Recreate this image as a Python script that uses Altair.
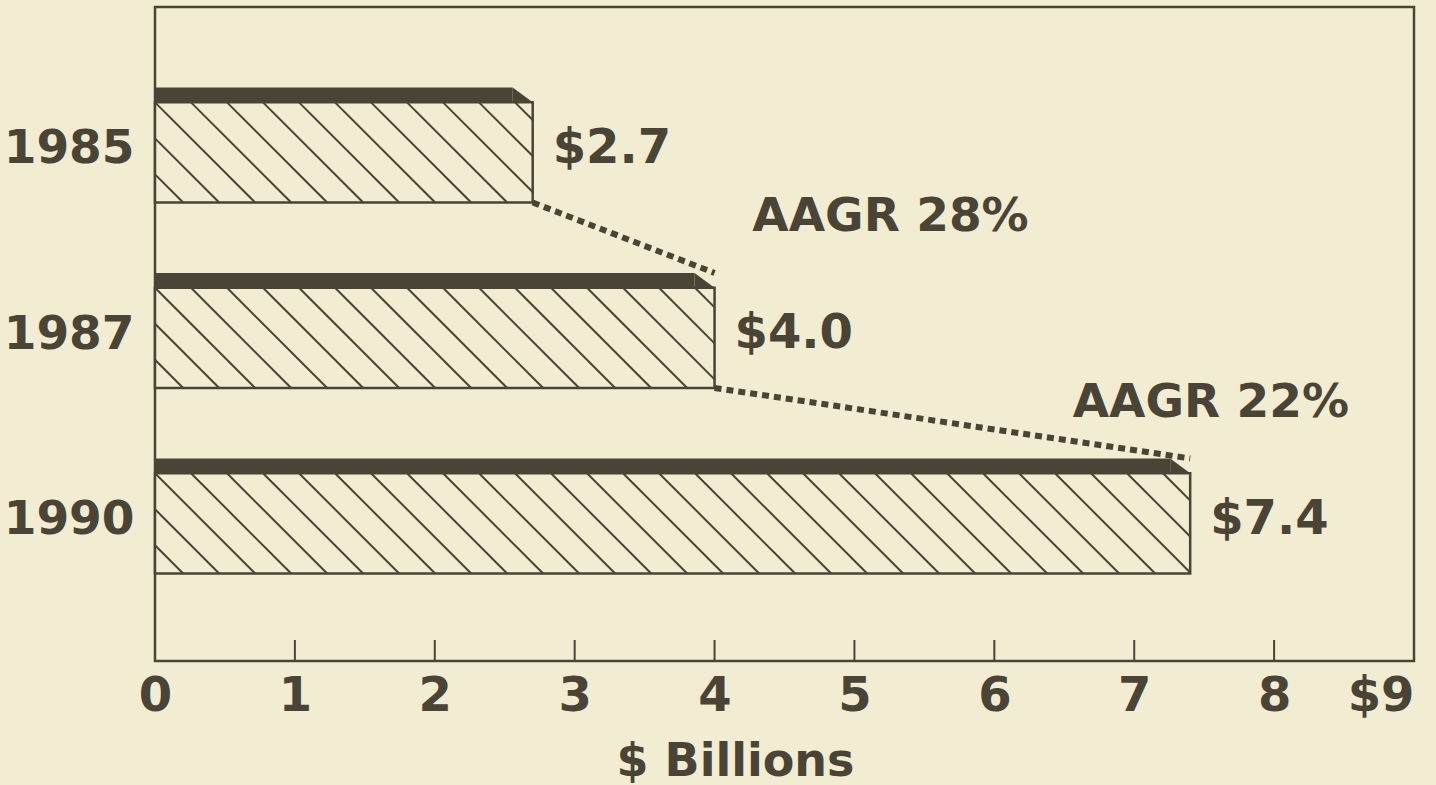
import altair as alt
import pandas as pd
import numpy as np

# ---- data ----
years = ["1985", "1987", "1990"]
values = [2.7, 4.0, 7.4]                 # $ billions
growth_labels = ["AAGR 28%", "AAGR 22%"]
growth_x = [4.27, 6.56]                  # left edge of annotation ($ billions)
growth_y = [0.39, 1.39]                  # vertical centre (bar-row units)
x_ticks = [0, 1, 2, 3, 4, 5, 6, 7, 8, 9]
x_tick_labels = ["0", "1", "2", "3", "4", "5", "6", "7", "8", "$9"]

# ---- styling ----
INK = "#4a4437"
BG = "#f2ecd2"
FONT = "DejaVu Sans"
W, H = 1259, 654
X_DOM = [0, 9]
Y_DOM = [-0.744, 2.782]
PX_X = W / (X_DOM[1] - X_DOM[0])
PX_Y = H / (Y_DOM[1] - Y_DOM[0])
HALF = 0.31          # half bar thickness (row units)
BAND = 0.08          # dark top band thickness
BEVEL = 20 / PX_X    # bevel on dark band
HATCH = 36           # hatch spacing, px

# ---- derived tables ----
bars = pd.DataFrame({
    "year": years,
    "value": values,
    "idx": list(range(len(years))),
})
bars["zero"] = 0.0
bars["top"] = bars["idx"] - HALF
bars["htop"] = bars["idx"] - HALF + BAND
bars["bot"] = bars["idx"] + HALF
bars["bend"] = bars["value"] - BEVEL
bars["label"] = [f"${v:.1f}" for v in values]
bars["ly"] = bars["idx"] + 0.02

# bevel triangles at the right end of the dark band
bev_rows = []
for i, (yr, v) in enumerate(zip(years, values)):
    t = i - HALF
    bev_rows += [
        {"year": yr, "x": v - BEVEL, "y": t, "y2": t + BAND},
        {"year": yr, "x": v, "y": t + BAND, "y2": t + BAND},
    ]
bev = pd.DataFrame(bev_rows)

hatch_rows = []
for i, v in enumerate(values):
    top = i - HALF + BAND
    bot = i + HALF
    wp = v * PX_X
    hp = (bot - top) * PX_Y
    c = -np.floor(hp / HATCH) * HATCH
    while c < wp:
        y0 = max(0.0, -c)
        y1 = min(hp, wp - c)
        if y1 > y0:
            hatch_rows.append({"x": (y0 + c) / PX_X, "x2": (y1 + c) / PX_X,
                               "y": top + y0 / PX_Y, "y2": top + y1 / PX_Y})
        c += HATCH
hatch = pd.DataFrame(hatch_rows)

conn = pd.DataFrame([
    {"x": values[i], "y": i + HALF, "x2": values[i + 1], "y2": i + 1 - HALF}
    for i in range(len(values) - 1)
])

notes = pd.DataFrame({"text": growth_labels, "x": growth_x, "y": growth_y})
ticks = pd.DataFrame({"t": x_ticks[1:-1]})

# ---- scales / axes ----
xscale = alt.Scale(domain=X_DOM, nice=False, zero=False)
yscale = alt.Scale(domain=Y_DOM, nice=False, zero=False, reverse=True)

lab_arr = "[" + ",".join("'" + s + "'" for s in x_tick_labels) + "]"
yr_arr = "[" + ",".join("'" + s + "'" for s in years) + "]"

xaxis = alt.Axis(
    values=x_ticks, labelExpr=lab_arr + "[datum.value]",
    ticks=False, domain=False, grid=False,
    labelFont=FONT, labelFontWeight="bold", labelFontSize=48, labelColor=INK,
    labelPadding=11,
    labelAlign={"condition": {"test": "datum.value == 9", "value": "right"}, "value": "center"},
    title="$ Billions", titleFont=FONT, titleFontWeight="bold", titleFontSize=46,
    titleColor=INK, titleX=580, titleY=114, titleAlign="center",
    titleBaseline="alphabetic", titleAnchor="start",
)
yaxis = alt.Axis(
    values=list(range(len(years))), labelExpr=yr_arr + "[datum.value]",
    ticks=False, domain=False, grid=False, title=None,
    labelFont=FONT, labelFontWeight="bold", labelFontSize=47, labelColor=INK,
    labelPadding=21, labelOffset=4,
)


def X(f):
    return alt.X(f, type="quantitative", scale=xscale, axis=xaxis)


def Y(f):
    return alt.Y(f, type="quantitative", scale=yscale, axis=yaxis)


rects = alt.Chart(bars).mark_rect(fill=BG, stroke=INK, strokeWidth=2.5).encode(
    x=X("zero"), x2="value", y=Y("htop"), y2="bot")

hatch_l = alt.Chart(hatch).mark_rule(stroke=INK, strokeWidth=2).encode(
    x=X("x"), x2="x2", y=Y("y"), y2="y2")

band_l = alt.Chart(bars).mark_rect(color=INK, opacity=1).encode(
    x=X("zero"), x2="bend", y=Y("top"), y2="htop")

bev_l = alt.Chart(bev).mark_area(color=INK, opacity=1, orient="vertical").encode(
    x=X("x"), y=Y("y"), y2="y2", detail="year:N")

conn_l = alt.Chart(conn).mark_rule(stroke=INK, strokeWidth=6, strokeDash=[7, 5]).encode(
    x=X("x"), x2="x2", y=Y("y"), y2="y2")

tick_l = alt.Chart(ticks).mark_rule(stroke=INK, strokeWidth=2).encode(
    x=X("t"), y=alt.value(H - 21), y2=alt.value(H))

val_l = alt.Chart(bars).mark_text(
    align="left", baseline="middle", dx=20, font=FONT, fontWeight="bold",
    fontSize=48, color=INK).encode(x=X("value"), y=Y("ly"), text="label:N")

note_l = alt.Chart(notes).mark_text(
    align="left", baseline="middle", font=FONT, fontWeight="bold",
    fontSize=47, color=INK).encode(x=X("x"), y=Y("y"), text="text:N")

chart = alt.layer(rects, hatch_l, band_l, bev_l, conn_l, tick_l, val_l, note_l).properties(
    width=W, height=H,
    autosize=alt.AutoSizeParams(type="none"),
    padding={"left": 155, "top": 7, "right": 22, "bottom": 124},
    background=BG,
).configure_view(stroke=INK, strokeWidth=2.5)

chart.save("out.html", embed_options={"renderer": "svg", "actions": False})
